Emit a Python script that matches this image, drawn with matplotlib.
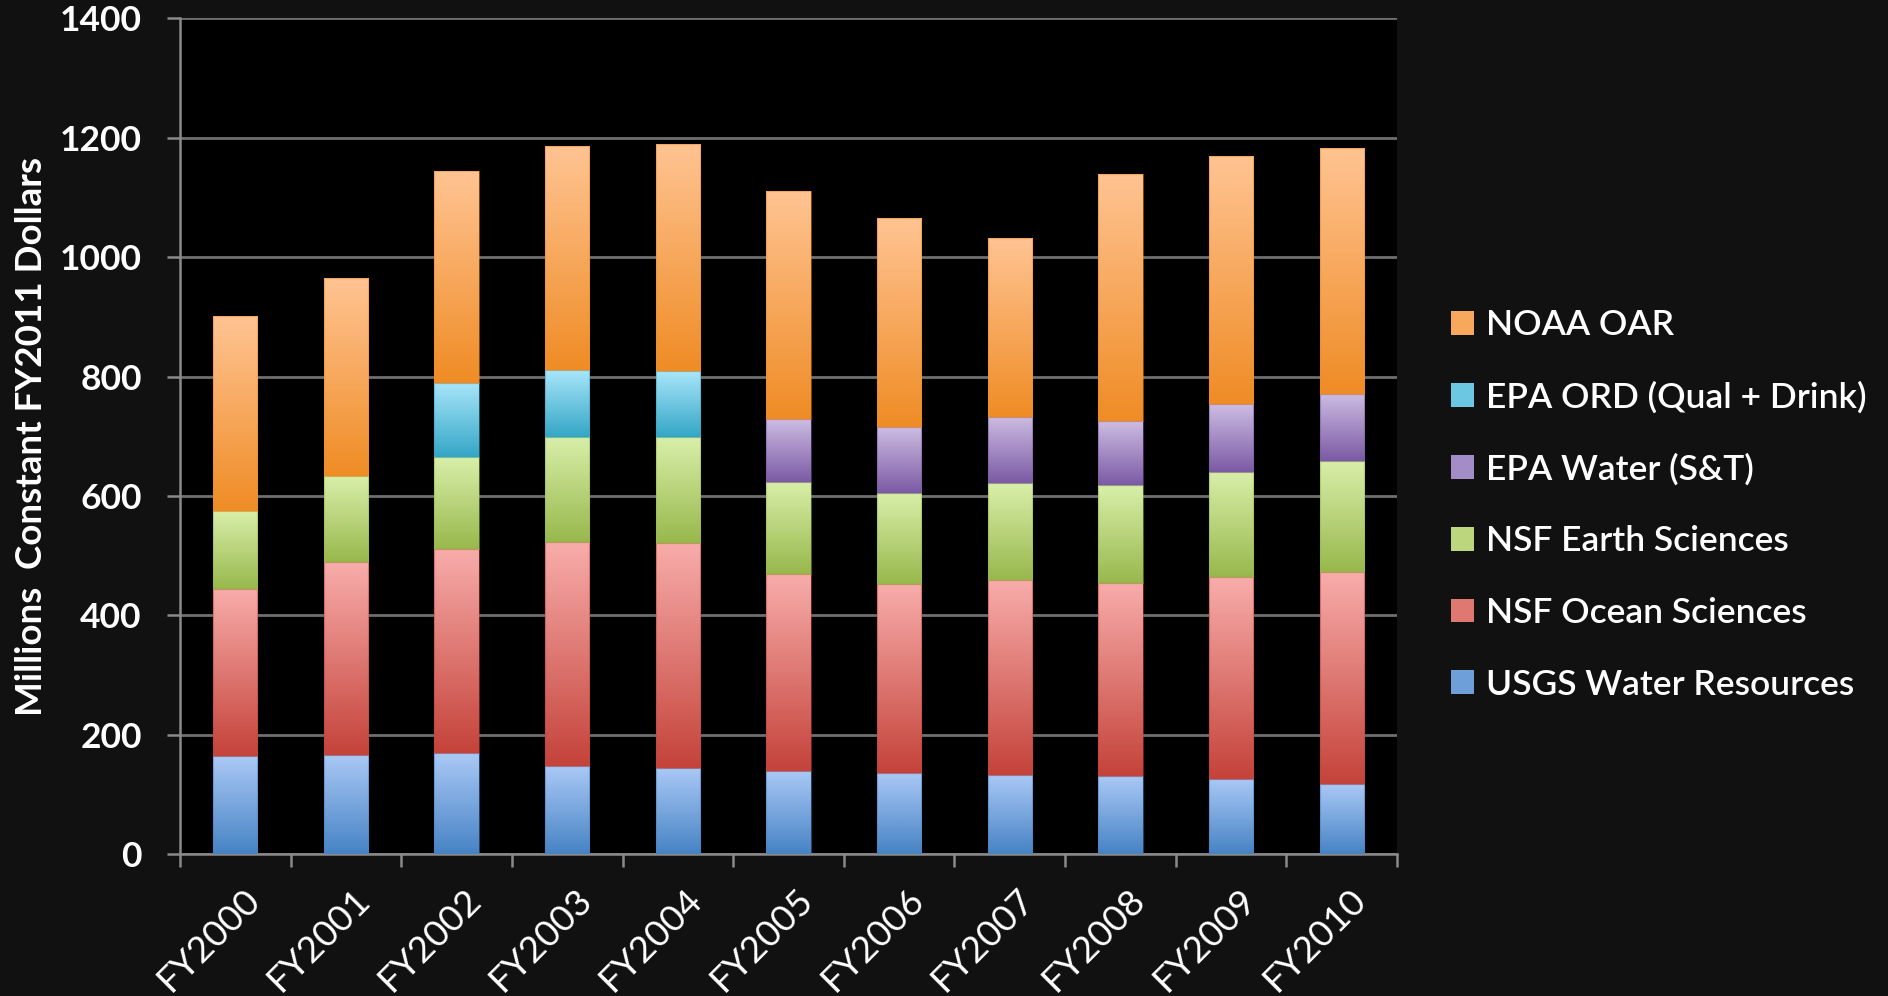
import numpy as np
import matplotlib
matplotlib.use("Agg")
import matplotlib.pyplot as plt
import matplotlib.transforms as mtransforms
from matplotlib.colors import LinearSegmentedColormap
from matplotlib.patches import Patch

# ---------------- data ----------------
years = ["FY2000", "FY2001", "FY2002", "FY2003", "FY2004", "FY2005",
         "FY2006", "FY2007", "FY2008", "FY2009", "FY2010"]

usgs_water = [164, 167, 169, 148, 145, 140, 136, 133, 131, 126, 117]
nsf_ocean = [281, 323, 343, 375, 377, 329, 316, 327, 324, 338, 355]
nsf_earth = [130, 144, 154, 176, 177, 155, 153, 162, 164, 177, 186]
epa_water = [0, 0, 0, 0, 0, 105, 110, 111, 107, 113, 113]
epa_ord = [0, 0, 124, 112, 110, 0, 0, 0, 0, 0, 0]
noaa_oar = [326, 331, 355, 375, 381, 382, 351, 299, 414, 415, 412]

series_names = ["USGS Water Resources", "NSF Ocean Sciences", "NSF Earth Sciences",
                "EPA Water (S&T)", "EPA ORD (Qual + Drink)", "NOAA OAR"]
series_values = [usgs_water, nsf_ocean, nsf_earth, epa_water, epa_ord, noaa_oar]

y_ticks = [0, 200, 400, 600, 800, 1000, 1200, 1400]

# (bottom colour, top colour, legend colour)
series_colors = [
    ("#4683c4", "#abc9f6", "#6f9fd8"),
    ("#c4433a", "#f8adab", "#e07872"),
    ("#98b84c", "#d9efaa", "#bcd67e"),
    ("#7b5aa4", "#cdbde3", "#a48cc6"),
    ("#34a6c6", "#a9e6fa", "#6cc8e2"),
    ("#ef8c25", "#ffc493", "#f7a85c"),
]

# ---------------- figure ----------------
FONT = ["Lato", "DejaVu Sans"]
plt.rcParams["font.family"] = FONT

fig = plt.figure(figsize=(18.88, 9.96), dpi=100, facecolor="#111111")
ax = fig.add_axes([180 / 1888, 1 - 854.3 / 996, (1397 - 180) / 1888, (854.3 - 18.3) / 996])
ax.set_facecolor("#000000")

x = np.arange(len(years))
width = 0.40
bottom = np.zeros(len(years))
grad = np.linspace(0, 1, 256).reshape(-1, 1)

for vals, (c0, c1, cl) in zip(series_values, series_colors):
    vals = np.asarray(vals, dtype=float)
    bars = ax.bar(x, vals, width, bottom=bottom, color=cl, edgecolor="none", zorder=2)
    cmap = LinearSegmentedColormap.from_list("g", [c0, c1])
    for rect, v in zip(bars, vals):
        if v <= 0:
            continue
        x0, y0 = rect.get_x(), rect.get_y()
        w, h = rect.get_width(), rect.get_height()
        im = ax.imshow(grad, cmap=cmap, origin="lower", aspect="auto",
                       extent=[x0, x0 + w, y0, y0 + h], zorder=3, interpolation="bilinear")
        im.set_clip_path(rect)
        ax.add_patch(plt.Rectangle((x0, y0), w, h, fill=False,
                                   edgecolor=c0, linewidth=0.8, alpha=0.5, zorder=4))
    bottom += vals

ax.set_xlim(-0.5, len(years) - 0.5)
ax.set_ylim(0, 1400)

# grid and spines
ax.set_yticks(y_ticks)
ax.set_yticklabels([str(v) for v in y_ticks])
ax.yaxis.grid(True, color="#6f6f6f", linewidth=2.0, zorder=1)
ax.set_axisbelow(True)
for s in ["top", "right"]:
    ax.spines[s].set_visible(False)
for s in ["left", "bottom"]:
    ax.spines[s].set_color("#8a8a8a")
    ax.spines[s].set_linewidth(1.8)

ax.tick_params(axis="y", colors="#8a8a8a", length=9.5, width=1.8, pad=18,
               labelcolor="white", labelsize=25.5)
for lab in ax.get_yticklabels():
    lab.set_fontweight("bold")

ax.set_xticks(x)
ax.set_xticklabels(years, rotation=45, ha="right", va="center",
                   rotation_mode="anchor", fontsize=26.5, color="white")
ax.set_xticks(np.arange(len(years) + 1) - 0.5, minor=True)
ax.tick_params(axis="x", which="major", length=0, pad=29)
ax.tick_params(axis="x", which="minor", length=9.5, width=1.8, colors="#8a8a8a")
offset = mtransforms.ScaledTranslation(19 / 100, 0, fig.dpi_scale_trans)
for lab in ax.get_xticklabels():
    lab.set_transform(lab.get_transform() + offset)

ax.set_ylabel("Millions  Constant FY2011 Dollars", fontsize=26.5, fontweight="bold",
              color="white")
ax.yaxis.set_label_coords(48 / 1888, 1 - 436 / 996, transform=fig.transFigure)

# legend (reverse order, as in reference)
handles = [Patch(facecolor=c[2], edgecolor="none") for c in series_colors][::-1]
labels = series_names[::-1]
leg = fig.legend(handles, labels, loc="center left",
                 bbox_to_anchor=(1451 / 1888, 1 - 505 / 996),
                 frameon=False, fontsize=25.5, labelcolor="white",
                 handlelength=0.65, handleheight=0.65, handletextpad=0.35,
                 labelspacing=1.12, borderpad=0, borderaxespad=0)
for t in leg.get_texts():
    t.set_fontweight("semibold")

fig.savefig("out.png", dpi=100, facecolor=fig.get_facecolor())
